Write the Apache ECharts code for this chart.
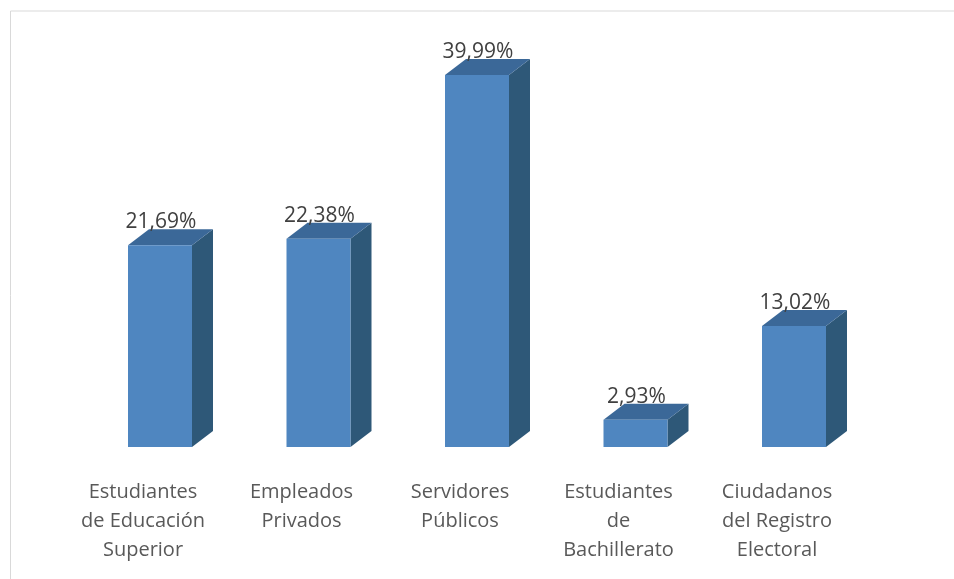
<!DOCTYPE html>
<html>
<head>
<meta charset="utf-8">
<script src="https://cdn.jsdelivr.net/npm/echarts@6/dist/echarts.min.js"></script>
<style>html,body{margin:0;padding:0;background:#fff;}#c{width:954px;height:579px;}</style>
</head>
<body>
<div id="c"></div>
<script>
const categories = [
  'Estudiantes\nde Educación\nSuperior',
  'Empleados\nPrivados',
  'Servidores\nPúblicos',
  'Estudiantes\nde\nBachillerato',
  'Ciudadanos\ndel Registro\nElectoral'
];
const values = [21.69, 22.38, 39.99, 2.93, 13.02];

const FRONT = '#4F86C0', TOP = '#3B6898', SIDE = '#2E5878';
const FONT = '"Open Sans", "Liberation Sans", sans-serif';

function fmt(v){ return v.toFixed(2).replace('.', ',') + '%'; }

function renderItem(params, api){
  const idx = api.value(0), v = api.value(1);
  const top = api.coord([idx, v]);
  const base = api.coord([idx, 0]);
  const w = 64, dx = 21, dy = 16;
  const x0 = top[0] - 15, x1 = x0 + w;
  const yt = top[1], yb = base[1];
  return {
    type: 'group',
    children: [
      {type:'polygon', shape:{points:[[x1,yt],[x1+dx,yt-dy],[x1+dx,yb-dy],[x1,yb]]}, style:{fill:SIDE}},
      {type:'polygon', shape:{points:[[x0,yt],[x0+dx,yt-dy],[x1+dx,yt-dy],[x1,yt]]}, style:{fill:TOP}},
      {type:'rect', shape:{x:x0, y:yt, width:w, height:yb-yt}, style:{fill:FRONT}},
      {type:'text', x:x0 + w/2 + 1, y:yt - 23, style:{text:fmt(v), fill:'#404040', font:'21px ' + FONT, textAlign:'center', textVerticalAlign:'middle'}}
    ]
  };
}

const chart = echarts.init(document.getElementById('c'));
chart.setOption({
  animation: false,
  backgroundColor: '#fff',
  graphic: [{
    type: 'rect', left: 8, top: 8.5, silent: true, z: -10,
    shape: {x: 0, y: 0, width: 1000, height: 1000},
    style: {fill: 'none', stroke: '#D9D9D9', lineWidth: 1}
  }],
  grid: {left: 63.75, right: 97.75, top: 28.5, bottom: 132, containLabel: false},
  xAxis: {
    type: 'category',
    data: categories,
    axisLine: {show: false},
    axisTick: {show: false},
    axisLabel: {color: '#595959', fontSize: 20, lineHeight: 29, margin: 31, fontFamily: FONT, interval: 0}
  },
  yAxis: {type: 'value', min: 0, max: 45, show: false, splitLine: {show: false}},
  series: [{
    type: 'custom',
    renderItem: renderItem,
    data: values.map((v, i) => [i, v]),
    encode: {x: 0, y: 1}
  }]
});
</script>
</body>
</html>
